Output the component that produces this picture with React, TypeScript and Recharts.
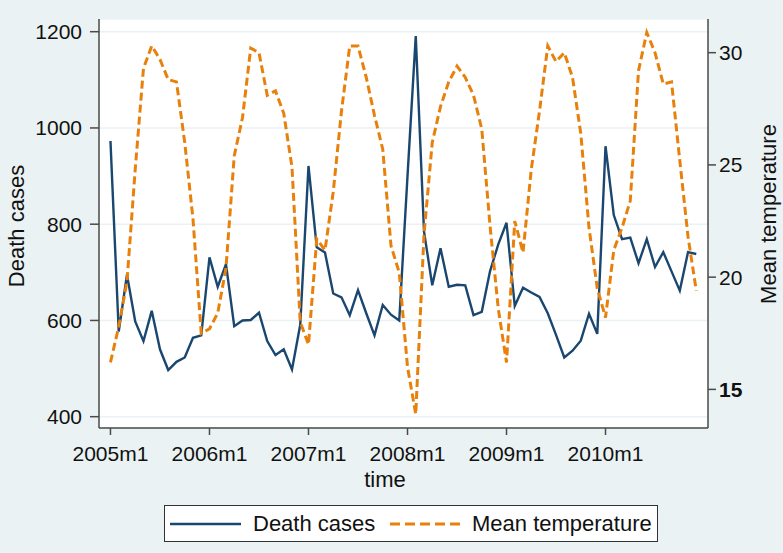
import { ComposedChart, Line, XAxis, YAxis, CartesianGrid } from 'recharts'

const W = 783
const H = 553
const navy = '#1a476f'
const orange = '#e8800c'
const axisColor = '#4a4a4a'
const bg = '#eaf2f3'
const font = '"Liberation Sans", Arial, Helvetica, sans-serif'

// monthly values, 2005m1 .. 2010m12
const deathCases = [
  973, 577, 695, 598, 557, 620, 540, 497, 514, 523, 564, 569,
  731, 670, 717, 588, 600, 601, 616, 557, 528, 540, 498, 591,
  921, 752, 741, 656, 648, 611, 663, 615, 569, 632, 612, 600,
  900, 1191, 785, 673, 750, 670, 674, 673, 611, 618, 702, 758,
  803, 630, 668, 658, 649, 615, 570, 523, 537, 558, 614, 572,
  962, 819, 769, 772, 719, 769, 711, 742, 702, 662, 742, 738,
]

const meanTemp = [
  16.2, 17.8, 19.8, 24.8, 29.3, 30.3, 29.7, 28.8, 28.7, 26.0, 22.6, 17.5,
  17.7, 18.4, 20.4, 25.4, 27.1, 30.2, 30.0, 28.1, 28.3, 27.3, 24.9, 18.0,
  17.0, 21.7, 21.2, 23.8, 27.4, 30.3, 30.3, 28.9, 27.2, 25.7, 21.4, 20.2,
  16.0, 13.9, 21.9, 26.0, 27.6, 28.7, 29.4, 28.9, 28.1, 26.6, 22.3, 18.6,
  16.2, 22.5, 21.1, 24.8, 27.4, 30.3, 29.6, 30.0, 28.9, 26.4, 22.2, 19.5,
  18.2, 21.2, 22.2, 23.4, 29.2, 30.9, 30.0, 28.6, 28.7, 25.2, 21.8, 19.4,
]

const xTicks = [0, 12, 24, 36, 48, 60]
const xTickLabels = ['2005m1', '2006m1', '2007m1', '2008m1', '2009m1', '2010m1']
const deathTicks = [400, 600, 800, 1000, 1200]
const tempTicks = [15, 20, 25, 30]

const data = deathCases.map((d, i) => ({ t: i, death: d, temp: meanTemp[i] }))

const tickStyle = { fontSize: 21, fill: '#111', fontFamily: font }

const TempTick = (props: any) => {
  const { x, y, payload } = props
  return (
    <text
      x={x}
      y={y}
      dy="0.355em"
      textAnchor="start"
      fontSize={21}
      fill="#111"
      fontFamily={font}
      fontWeight={payload.value === 15 ? 'bold' : 'normal'}
    >
      {payload.value}
    </text>
  )
}

export default function App() {
  return (
    <div style={{ position: 'absolute', left: 0, top: 0, width: W, height: H, background: bg }}>
      <ComposedChart width={W} height={H} data={data} margin={{ top: 19, right: 0, bottom: 0, left: 0 }}>
        <CartesianGrid
          yAxisId="left"
          vertical={false}
          stroke={bg}
          strokeWidth={1.5}
          fill="#fff"
          fillOpacity={1}
        />
        <XAxis
          dataKey="t"
          type="number"
          domain={[-1.39, 72.42]}
          allowDataOverflow
          ticks={xTicks}
          tickFormatter={(v) => xTickLabels[xTicks.indexOf(v)] ?? ''}
          height={125}
          stroke={axisColor}
          strokeWidth={1.5}
          tickSize={7}
          tickMargin={11}
          tick={tickStyle}
        />
        <YAxis
          yAxisId="left"
          domain={[376.5, 1226.4]}
          allowDataOverflow
          ticks={deathTicks}
          width={99}
          stroke={axisColor}
          strokeWidth={1.5}
          tickSize={9}
          tickMargin={8}
          tick={tickStyle}
        />
        <YAxis
          yAxisId="right"
          orientation="right"
          domain={[13.28, 31.5]}
          allowDataOverflow
          ticks={tempTicks}
          width={75}
          stroke={axisColor}
          strokeWidth={1.5}
          tickSize={8}
          tickMargin={3}
          tick={<TempTick />}
        />
        <Line
          yAxisId="left"
          type="linear"
          dataKey="death"
          stroke={navy}
          strokeWidth={2.4}
          dot={false}
          isAnimationActive={false}
        />
        <Line
          yAxisId="right"
          type="linear"
          dataKey="temp"
          stroke={orange}
          strokeWidth={3}
          strokeDasharray="8 4"
          dot={false}
          isAnimationActive={false}
        />
      </ComposedChart>
      <svg
        width={W}
        height={H}
        style={{ position: 'absolute', left: 0, top: 0, pointerEvents: 'none' }}
        fontFamily={font}
        fontSize={22}
        fill="#111"
      >
        <text x={24} y={226} textAnchor="middle" transform="rotate(-90 24 226)">
          Death cases
        </text>
        <text x={776} y={214} textAnchor="middle" transform="rotate(-90 776 214)">
          Mean temperature
        </text>
        <text x={385} y={487} textAnchor="middle">
          time
        </text>
        <rect x={164.5} y={505.5} width={493} height={36} fill="#fff" stroke="#333" strokeWidth={1} />
        <line x1={170} y1={524} x2={241} y2={524} stroke={navy} strokeWidth={2.4} />
        <text x={253} y={531}>Death cases</text>
        <line x1={390} y1={524} x2={465} y2={524} stroke={orange} strokeWidth={3} strokeDasharray="10 5" />
        <text x={472} y={531}>Mean temperature</text>
      </svg>
    </div>
  )
}
